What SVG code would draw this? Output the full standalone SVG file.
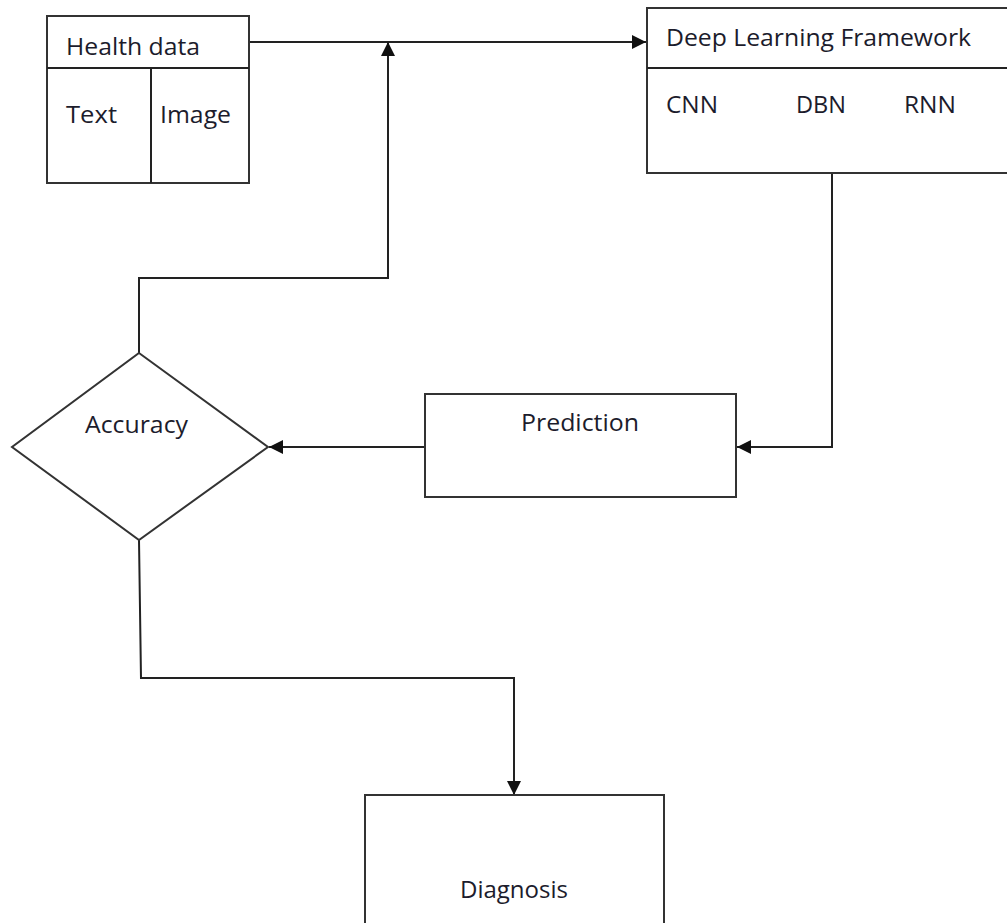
<svg xmlns="http://www.w3.org/2000/svg" width="1007" height="923" viewBox="0 0 1007 923">
<style>
.box{fill:#fff;stroke:#333;stroke-width:2}
.ln{fill:none;stroke:#222;stroke-width:2}
.t{font-family:"Open Sans","Liberation Sans",sans-serif;font-size:24px;fill:#1c1c2c}
</style>
<defs>
<marker id="ah" viewBox="0 0 10 10" refX="10" refY="5" markerWidth="14" markerHeight="14" markerUnits="userSpaceOnUse" orient="auto">
<path d="M0,0 L10,5 L0,10 z" fill="#111"/>
</marker>
</defs>
<rect width="1007" height="923" fill="#fff"/>
<g id="connectors">
<path class="ln" d="M249,42 H646" marker-end="url(#ah)"/>
<path class="ln" d="M139,353 V278 H388 V42" marker-end="url(#ah)"/>
<path class="ln" d="M832,173 V447 H737" marker-end="url(#ah)"/>
<path class="ln" d="M425,447 H269" marker-end="url(#ah)"/>
<path class="ln" d="M139,540 L141,678 H514 V795" marker-end="url(#ah)"/>
</g>
<g id="health-data">
<rect class="box" x="47" y="16" width="202" height="167"/>
<path class="ln" d="M47,68 H249 M151,68 V183"/>
<text class="t" x="66" y="55" textLength="134" lengthAdjust="spacingAndGlyphs">Health data</text>
<text class="t" x="66" y="123" textLength="51" lengthAdjust="spacingAndGlyphs">Text</text>
<text class="t" x="160" y="123" textLength="71" lengthAdjust="spacingAndGlyphs">Image</text>
</g>
<g id="deep-learning">
<rect class="box" x="647" y="8" width="370" height="165"/>
<path class="ln" d="M647,68 H1010"/>
<text class="t" x="666" y="46" textLength="305" lengthAdjust="spacingAndGlyphs">Deep Learning Framework</text>
<text class="t" x="666" y="113" textLength="52" lengthAdjust="spacingAndGlyphs">CNN</text>
<text class="t" x="796" y="113" textLength="50" lengthAdjust="spacingAndGlyphs">DBN</text>
<text class="t" x="904" y="113" textLength="52" lengthAdjust="spacingAndGlyphs">RNN</text>
</g>
<g id="accuracy">
<polygon class="box" points="139,353 268,447 139,540 12,447"/>
<text class="t" x="85" y="433" textLength="103" lengthAdjust="spacingAndGlyphs">Accuracy</text>
</g>
<g id="prediction">
<rect class="box" x="425" y="394" width="311" height="103"/>
<text class="t" x="521" y="431" textLength="118" lengthAdjust="spacingAndGlyphs">Prediction</text>
</g>
<g id="diagnosis">
<rect class="box" x="365" y="795" width="299" height="140"/>
<text class="t" x="460" y="898" textLength="108" lengthAdjust="spacingAndGlyphs">Diagnosis</text>
</g>
</svg>
